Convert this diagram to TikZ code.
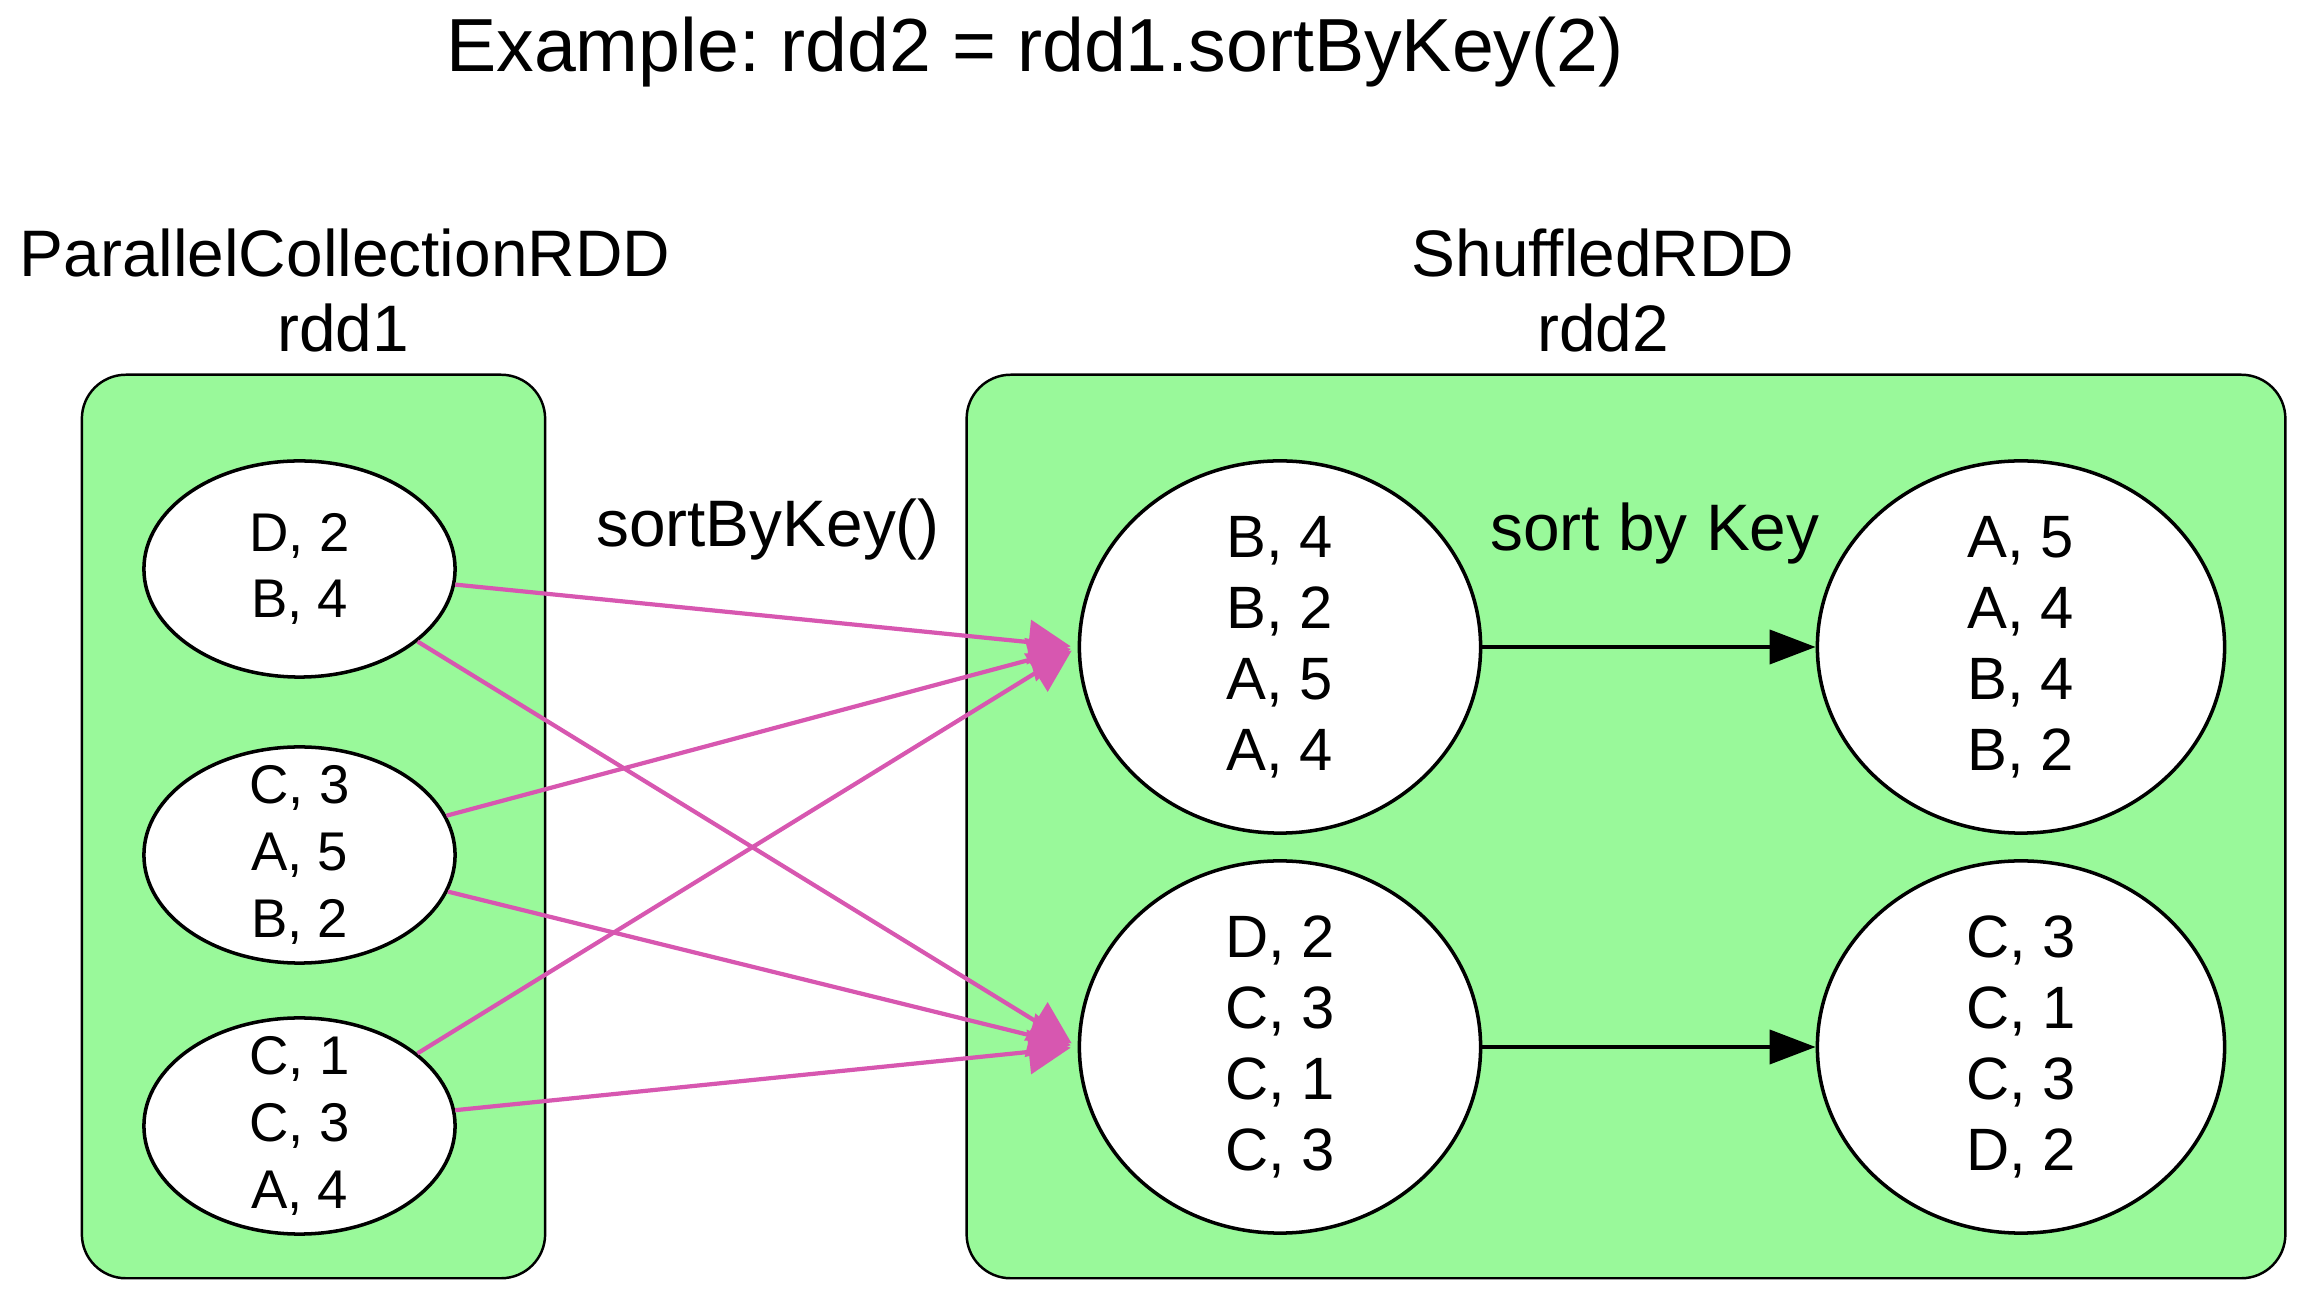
\documentclass[tikz,border=0pt]{standalone}
\usepackage{fontspec}
\setmainfont{Liberation Sans}
\usetikzlibrary{arrows.meta, positioning, shapes.geometric}
\definecolor{rddfill}{HTML}{99F99A}
\definecolor{shuffle}{HTML}{D757B0}
\frenchspacing

\begin{document}
\begin{tikzpicture}[x=0.01cm, y=-0.01cm, >={Triangle[length=4.6mm, width=3.4mm]},
    rdd/.style={draw, line width=0.7pt, fill=rddfill, rounded corners=4.4mm},
    part/.style={ellipse, draw, line width=1pt, fill=white, inner sep=0pt},
    lpart/.style={part, minimum width=3.11cm, minimum height=2.16cm},
    rpart/.style={part, minimum width=4.01cm, minimum height=3.72cm},
    ltxt/.style={align=center, font=\fontsize{15.5}{19}\selectfont},
    rtxt/.style={align=center, font=\fontsize{17}{20.2}\selectfont},
    lbl/.style={anchor=base, font=\fontsize{18.7}{22}\selectfont},
    shuf/.style={->, shuffle, line width=1.2pt, >={Triangle[length=4.2mm, width=4.4mm]}, shorten >=2pt}]

  \useasboundingbox (0,0) rectangle (2308,1292);

  \node[lbl, font=\fontsize{21.4}{26}\selectfont] (title) at (1035,72) {Example: rdd2 = rdd1.sortByKey(2)};

  % the two RDDs
  \node[rdd, minimum width=4.63cm, minimum height=9.03cm] (rdd1) at (313.5,826.5) {};
  \node[rdd, minimum width=13.18cm, minimum height=9.03cm] (rdd2) at (1626,826.5) {};

  \node[lbl] (pcname) at (345,277) {ParallelCollectionRDD};
  \node[lbl] (rdd1name) at (343,352) {rdd1};
  \node[lbl] (shname) at (1603,277) {ShuffledRDD};
  \node[lbl] (rdd2name) at (1603,352) {rdd2};

  % partitions of rdd1
  \node[lpart, label={[ltxt]center:{D, 2\\B, 4}}] (p1) at (299.5,569) {};
  \node[lpart, label={[ltxt]center:{C, 3\\A, 5\\B, 2}}] (p2) at (299.5,855) {};
  \node[lpart, label={[ltxt]center:{C, 1\\C, 3\\A, 4}}] (p3) at (299.5,1126) {};

  % partitions of rdd2
  \node[rpart, label={[rtxt]center:{B, 4\\B, 2\\A, 5\\A, 4}}] (s1) at (1280,647) {};
  \node[rpart, label={[rtxt]center:{D, 2\\C, 3\\C, 1\\C, 3}}] (s2) at (1280,1047) {};
  \node[rpart, minimum width=4.07cm, label={[rtxt]center:{A, 5\\A, 4\\B, 4\\B, 2}}] (o1) at (2021,647) {};
  \node[rpart, minimum width=4.07cm, label={[rtxt]center:{C, 3\\C, 1\\C, 3\\D, 2}}] (o2) at (2021,1047) {};

  \node[lbl] (op) at (768,547) {sortByKey()};
  \node[lbl] (sortlbl) at (1655,551) {sort by Key};

  % shuffle
  \foreach \p in {p1,p2,p3} {
    \draw[shuf] (\p) -- (s1.west);
    \draw[shuf] (\p) -- (s2.west);
  }

  \draw[->, line width=1.1pt] (s1) -- (o1);
  \draw[->, line width=1.1pt] (s2) -- (o2);
\end{tikzpicture}
\end{document}
